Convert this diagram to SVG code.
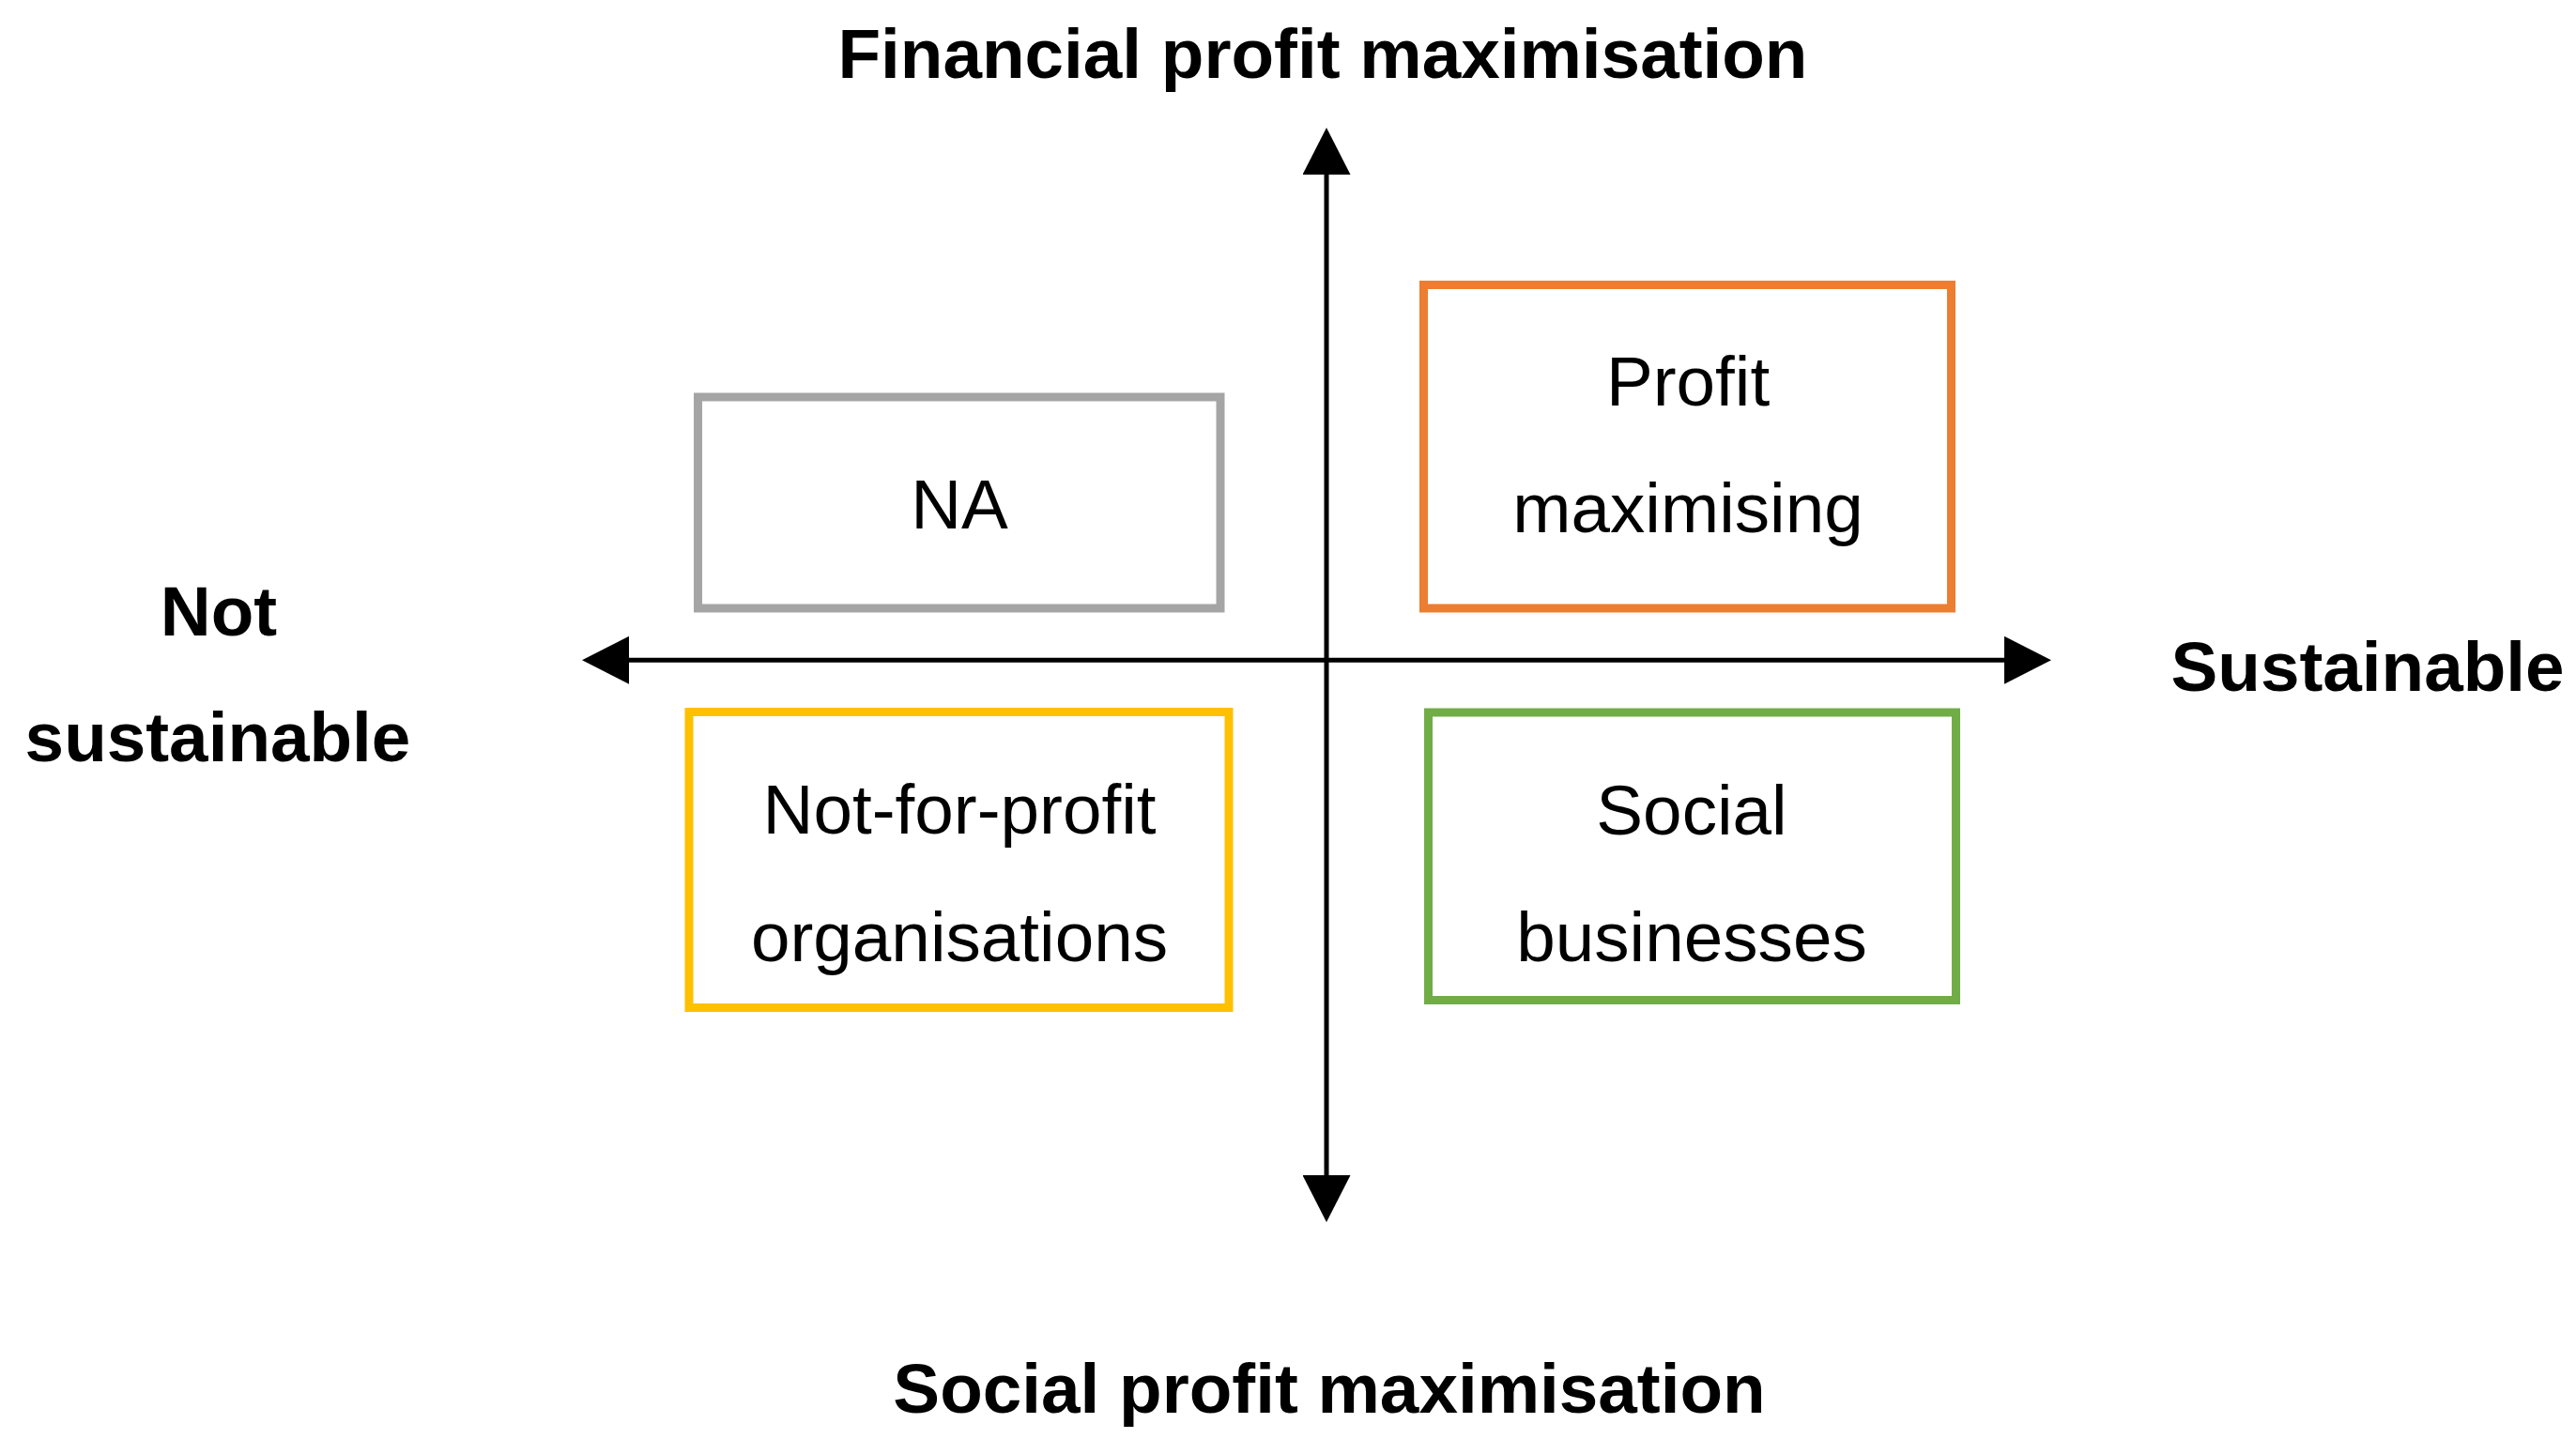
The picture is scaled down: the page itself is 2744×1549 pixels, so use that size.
<svg xmlns="http://www.w3.org/2000/svg" width="2744" height="1549" viewBox="0 0 2744 1549">
<style>
.box{fill:#FFFFFF;stroke-width:9}
.lbl{font-family:"Liberation Sans",Arial,sans-serif;font-size:74.67px;fill:#000000;text-anchor:middle}
.ttl{font-family:"Liberation Sans",Arial,sans-serif;font-size:74.67px;font-weight:bold;fill:#000000;text-anchor:middle}
.axis{stroke:#000000;stroke-width:5;fill:none}
</style>
<defs>
<marker id="arr" markerUnits="userSpaceOnUse" markerWidth="50" markerHeight="51" viewBox="0 0 50 51" refX="0" refY="25.5" orient="auto-start-reverse">
<path d="M0,0 L50,25.5 L0,51 Z" fill="#000000"/>
</marker>
</defs>
<rect width="2744" height="1549" fill="#FFFFFF"/>
<g id="connectors">
<line class="axis" x1="1413" y1="186" x2="1413" y2="1252" marker-start="url(#arr)" marker-end="url(#arr)"/>
<line class="axis" x1="670" y1="703.3" x2="2135" y2="703.3" marker-start="url(#arr)" marker-end="url(#arr)"/>
</g>
<g id="title-top"><text class="ttl" x="1409" y="83">Financial profit maximisation</text></g>
<g id="title-bottom"><text class="ttl" x="1416" y="1505">Social profit maximisation</text></g>
<g id="title-right"><text class="ttl" x="2522" y="736">Sustainable</text></g>
<g id="title-left"><text class="ttl" x="233" y="677">Not</text><text class="ttl" x="232" y="811">sustainable</text></g>
<g id="node-na">
<rect class="box" x="743.5" y="423" width="556.5" height="225" stroke="#A5A5A5"/>
<text class="lbl" x="1022" y="563">NA</text>
</g>
<g id="node-profit">
<rect class="box" x="1516.5" y="303.5" width="562" height="344.5" stroke="#ED7D31"/>
<text class="lbl" x="1798" y="432">Profit</text>
<text class="lbl" x="1798" y="567">maximising</text>
</g>
<g id="node-nfp">
<rect class="box" x="734" y="758.5" width="575" height="315" stroke="#FFC000"/>
<text class="lbl" x="1022" y="888">Not-for-profit</text>
<text class="lbl" x="1022" y="1024">organisations</text>
</g>
<g id="node-social">
<rect class="box" x="1521.5" y="759" width="562" height="306.5" stroke="#70AD47"/>
<text class="lbl" x="1802" y="889">Social</text>
<text class="lbl" x="1802" y="1024">businesses</text>
</g>
</svg>
